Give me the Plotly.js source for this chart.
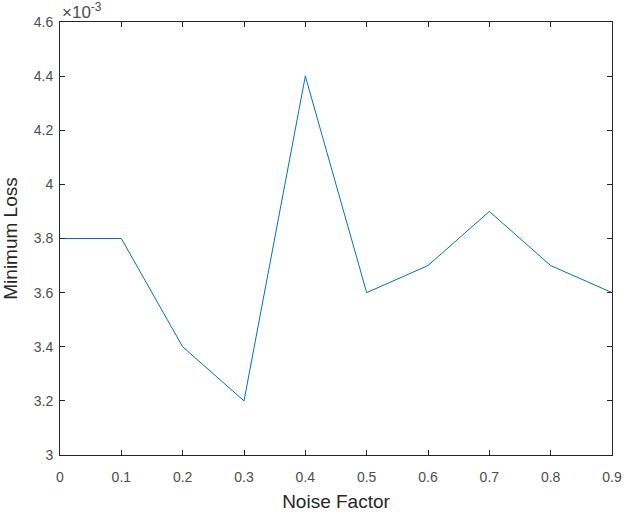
<!DOCTYPE html>
<html><head><meta charset="utf-8">
<script src="https://cdn.plot.ly/plotly-3.0.1.min.js"></script>
<style>html,body{margin:0;padding:0;background:#fff}</style>
</head><body>
<div id="chart" style="width:624px;height:512px"></div>
<script>
const noiseFactor = [0, 0.1, 0.2, 0.3, 0.4, 0.5, 0.6, 0.7, 0.8, 0.9];
const minLoss = [3.8e-3, 3.8e-3, 3.4e-3, 3.2e-3, 4.4e-3, 3.6e-3, 3.7e-3, 3.9e-3, 3.7e-3, 3.6e-3];
const yTickVals = [3.0e-3, 3.2e-3, 3.4e-3, 3.6e-3, 3.8e-3, 4.0e-3, 4.2e-3, 4.4e-3, 4.6e-3];
const yTickText = ['3', '3.2', '3.4', '3.6', '3.8', '4', '4.2', '4.4', '4.6'];
const xTickVals = [0, 0.1, 0.2, 0.3, 0.4, 0.5, 0.6, 0.7, 0.8, 0.9];
const xTickText = ['0', '0.1', '0.2', '0.3', '0.4', '0.5', '0.6', '0.7', '0.8', '0.9'];

const font = 'Liberation Sans, Arial, sans-serif';
Plotly.newPlot('chart', [{
  x: noiseFactor, y: minLoss, type: 'scatter', mode: 'lines',
  line: {color: '#0072BD', width: 1}
}], {
  width: 624, height: 512,
  margin: {l: 60, r: 12, t: 22, b: 57},
  paper_bgcolor: '#fff', plot_bgcolor: '#fff',
  showlegend: false,
  font: {family: font, color: '#4d4d4d', size: 13},
  xaxis: {
    range: [0, 0.9], tickvals: xTickVals, ticktext: xTickText,
    ticks: 'inside', ticklen: 5, tickcolor: '#262626', tickwidth: 1,
    showline: true, linecolor: '#262626', linewidth: 1, mirror: 'ticks',
    showgrid: false, zeroline: false, ticklabelstandoff: 9,
    tickfont: {size: 14, color: '#4d4d4d'},
    title: {text: 'Noise Factor', font: {size: 19, color: '#262626'}, standoff: 11}
  },
  yaxis: {
    range: [3.0e-3, 4.6e-3], tickvals: yTickVals, ticktext: yTickText,
    ticks: 'inside', ticklen: 5, tickcolor: '#262626', tickwidth: 1,
    showline: true, linecolor: '#262626', linewidth: 1, mirror: 'ticks',
    showgrid: false, zeroline: false, ticklabelstandoff: 3,
    tickfont: {size: 14, color: '#4d4d4d'},
    title: {text: 'Minimum Loss', font: {size: 19, color: '#262626'}, standoff: 16}
  },
  annotations: [{
    xref: 'paper', yref: 'paper', x: 0, y: 1, xanchor: 'left', yanchor: 'bottom',
    yshift: -2, showarrow: false,
    text: '×10<sup>-3</sup>', font: {size: 17, color: '#4d4d4d', family: font}
  }]
}, {displayModeBar: false});
</script>
</body></html>
